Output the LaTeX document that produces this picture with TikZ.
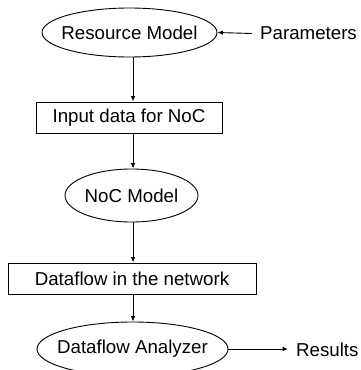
\documentclass[tikz,border=0pt]{standalone}
\usepackage{fontspec}
\setmainfont{Liberation Sans}
\usetikzlibrary{shapes.geometric,arrows.meta}
\begin{document}
\begin{tikzpicture}[x=1pt,y=-1pt,
  every node/.style={font=\fontsize{18.7}{22}\selectfont},
  ellbox/.style={draw, ellipse, line width=0.9pt, inner sep=0pt},
  recbox/.style={draw, rectangle, line width=1pt, inner sep=0pt},
  plain/.style={inner sep=0pt, anchor=west},
  arr/.style={line width=0.9pt, -{Latex[length=5.5pt,width=4.5pt]}}]
\useasboundingbox (0,0) rectangle (360,370);
\coordinate (col) at (133,0);
\node[ellbox, minimum width=175pt, minimum height=49pt, label={center:Resource Model}] (rm) at (129.5,32.5) {};
\node[plain] (par) at (260,33.5) {Parameters};
\node[recbox, minimum width=186pt, minimum height=31pt] (inp) at (129,117.5) {Input data for NoC};
\node[ellbox, minimum width=133pt, minimum height=53pt, label={center:NoC Model}] (noc) at (131.5,195.5) {};
\node[recbox, minimum width=248pt, minimum height=31pt] (df) at (132,278.5) {Dataflow in the network};
\node[ellbox, minimum width=191pt, minimum height=54pt, label={center:Dataflow Analyzer}] (an) at (132.5,349) {};
\node[plain] (res) at (296,349.5) {Results};
\coordinate (resin) at (288,349);
\coordinate (parout) at (252,33.5);
\draw[arr] (parout) -- (rm.east);
\draw[arr] (rm.south -| col) -- (inp.north -| col);
\draw[arr] (inp.south -| col) -- (noc.north -| col);
\draw[arr] (noc.south -| col) -- (df.north -| col);
\draw[arr] (df.south -| col) -- (an.north -| col);
\draw[arr] (an.east) -- (resin);
\end{tikzpicture}
\end{document}
